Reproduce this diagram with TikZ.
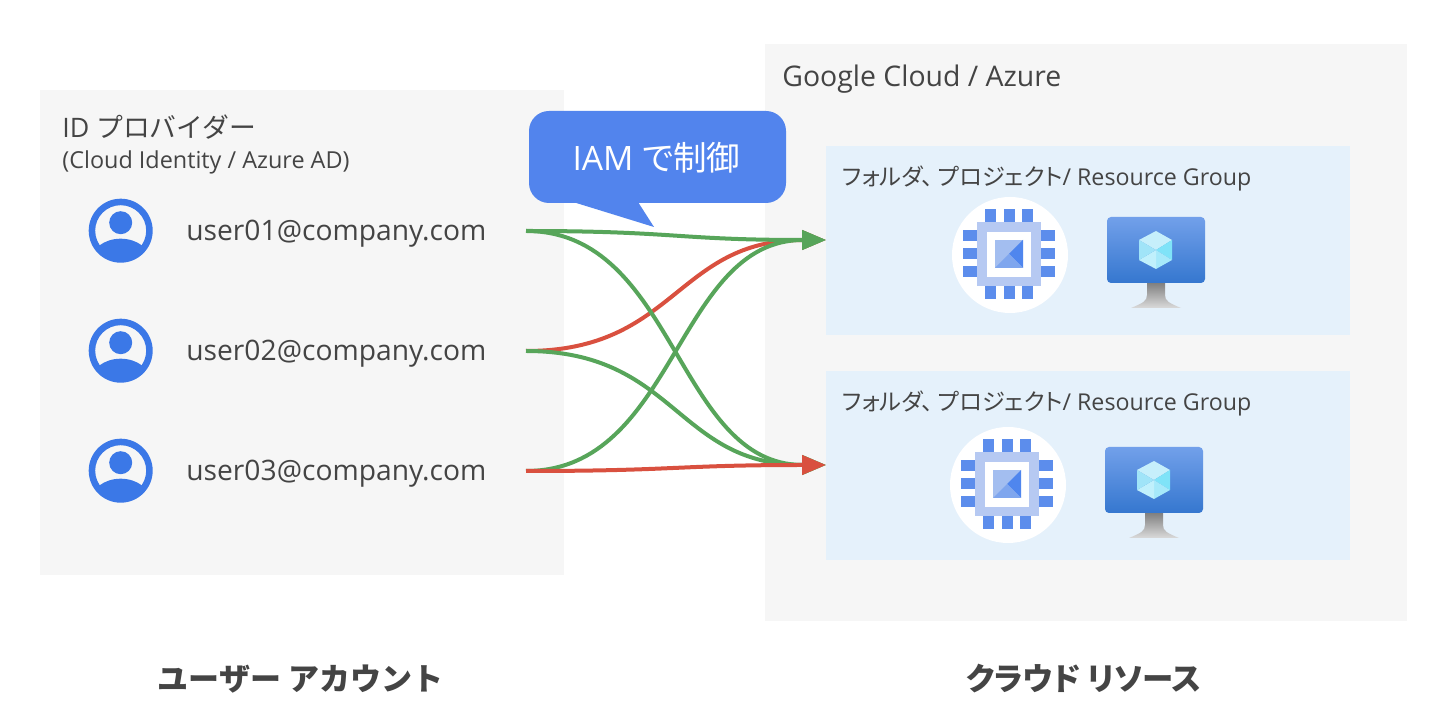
\documentclass[tikz,border=0pt]{standalone}
\usepackage{fontspec}
\setmainfont{Open Sans}
\newfontfamily\jp{Noto Sans CJK JP}
\newfontfamily\jpp[RawFeature=+palt]{Noto Sans CJK JP}
\usetikzlibrary{arrows.meta,shadings}
\definecolor{panelgray}{HTML}{F6F6F6}
\definecolor{panelblue}{HTML}{E5F1FB}
\definecolor{ink}{HTML}{444444}
\definecolor{bubble}{HTML}{5284ED}
\definecolor{userblue}{HTML}{3B78E7}
\definecolor{linkgreen}{HTML}{57A55A}
\definecolor{linkred}{HTML}{D9503F}
\definecolor{pinblue}{HTML}{5C8DEC}
\definecolor{chipbody}{HTML}{B6C9F2}
\definecolor{standtop}{HTML}{808080}
\definecolor{standbot}{HTML}{DADADA}
\definecolor{mtop}{HTML}{72A0EA}
\definecolor{mbot}{HTML}{3577CF}
\tikzset{
  x=0.5pt,y=-0.5pt,
  panel/.style={fill=panelgray,draw=none},
  bluepanel/.style={fill=panelblue,draw=none},
  label/.style={anchor=base west,inner sep=0pt,text=ink},
  link/.style={line width=2pt,-{Triangle[length=12pt,width=9.5pt]}},
  pin/.style={fill=pinblue,draw=none},
  hexc/.code={\definecolor{tmpc}{HTML}{#1}\pgfkeysalso{fill=tmpc}},
  pics/usericon/.style={code={
    \fill[userblue,even odd rule] (0,0) circle[radius=32] (0,0) circle[radius=25.5];
    \fill[userblue] (0,-8) circle[radius=11.5];
    \begin{scope}
      \clip (0,0) circle[radius=31];
      \fill[userblue] (0,31) ellipse[x radius=30,y radius=23];
    \end{scope}
  }},
  pics/chipicon/.style={code={
    \fill[white] (0,0) circle[radius=58];
    \foreach \a in {-25,-6,12}{
      \fill[pin] (\a,-46) rectangle (\a+11,-32);
      \fill[pin] (\a,30) rectangle (\a+11,44);
    }
    \foreach \b in {-25,-7,11}{
      \fill[pin] (-47,\b) rectangle (-32,\b+11);
      \fill[pin] (30,\b) rectangle (45,\b+11);
    }
    \fill[chipbody] (-33,-33) rectangle (31,31);
    \fill[white] (-23,-23) rectangle (21,22);
    \fill[hexc=A3BEF0] (-15,-15) rectangle (13,13);
    \fill[hexc=4F86EE] (13,-15) -- (13,13) -- (-1,-1) -- cycle;
    \fill[hexc=7FA6EE] (-15,13) -- (-1,-1) -- (13,13) -- cycle;
  }},
  pics/vmicon/.style={code={
    \shade[top color=standtop,bottom color=standbot] (40,66) -- (58,66) -- (58,78) .. controls (58,84) and (62,86) .. (74,91) -- (24,91) .. controls (36,86) and (40,84) .. (40,78) -- cycle;
    \shade[top color=mtop,bottom color=mbot,rounded corners=2pt] (0,0) rectangle (98,66);
    \fill[hexc=C6EFFB] (49,14) -- (65,23) -- (49,33) -- (32,23) -- cycle;
    \fill[hexc=7FE3F8] (65,23) -- (65,43) -- (49,33) -- cycle;
    \fill[hexc=A6E9FA] (65,43) -- (49,52) -- (49,33) -- cycle;
    \fill[hexc=C0F0FC] (49,52) -- (32,43) -- (49,33) -- cycle;
    \fill[hexc=A0E4F8] (32,43) -- (32,23) -- (49,33) -- cycle;
  }},
}
\begin{document}
\begin{tikzpicture}
\useasboundingbox (0,0) rectangle (1448,726);
\fill[white] (0,0) rectangle (1448,726);
% panels
\fill[panel] (40,90) rectangle (564,575);
\fill[panel] (765,44) rectangle (1407,621);
\fill[bluepanel] (826,146) rectangle (1350,335);
\fill[bluepanel] (826,371) rectangle (1350,560);
% labels
\node[label,font=\fontsize{13.4pt}{15pt}\selectfont] (idp) at (62,138) {ID {\jp プロバイダー}};
\node[label,font=\fontsize{11.7pt}{13pt}\selectfont] (idps) at (62,169) {(Cloud Identity / Azure AD)};
\node[label,font=\fontsize{14.2pt}{16pt}\selectfont] (gc) at (782,87) {Google Cloud / Azure};
\node[label,font=\fontsize{11.6pt}{14pt}\selectfont] (fa) at (842,186) {{\jpp フォルダ、\kern2.5ptプロジェクト}/ Resource Group};
\node[label,font=\fontsize{11.6pt}{14pt}\selectfont] (fb) at (842,411) {{\jpp フォルダ、\kern2.5ptプロジェクト}/ Resource Group};
\node[label,font=\fontsize{14.1pt}{16pt}\selectfont] (u1) at (186,241) {user01@company.com};
\node[label,font=\fontsize{14.1pt}{16pt}\selectfont] (u2) at (186,361) {user02@company.com};
\node[label,font=\fontsize{14.1pt}{16pt}\selectfont] (u3) at (186,481) {user03@company.com};
\node[anchor=base,inner sep=0pt,text=ink,font=\jp\bfseries\fontsize{15.5pt}{18pt}\selectfont] (ua) at (300.5,691) {ユーザー アカウント};
\node[anchor=base,inner sep=0pt,text=ink,font=\jpp\bfseries\fontsize{15.7pt}{18pt}\selectfont] (cr) at (1084,691) {クラウド リソース};
% icons
\pic at (120.7,230.7) {usericon};
\pic at (120.7,350.7) {usericon};
\pic at (120.7,470.7) {usericon};
\pic at (1010,255) {chipicon};
\pic at (1008,485) {chipicon};
\pic at (1107,217) {vmicon};
\pic at (1105,447) {vmicon};
% connectors
\coordinate (s1) at (526,231);
\coordinate (s2) at (526,351);
\coordinate (s3) at (526,471);
\coordinate (ta) at (826,240);
\coordinate (tb) at (826,465);
\draw[link,draw=linkred] (s2) .. controls +(150,0) and +(-150,0) .. (ta);
\draw[link,draw=linkgreen] (s3) .. controls +(150,0) and +(-150,0) .. (ta);
\draw[link,draw=linkgreen] (s1) .. controls +(150,0) and +(-150,0) .. (ta);
\draw[link,draw=linkgreen] (s1) .. controls +(150,0) and +(-150,0) .. (tb);
\draw[link,draw=linkgreen] (s2) .. controls +(150,0) and +(-150,0) .. (tb);
\draw[link,draw=linkred] (s3) .. controls +(150,0) and +(-150,0) .. (tb);
% bubble
\fill[bubble,rounded corners=10pt] (529,111) rectangle (786,203);
\fill[bubble] (573,202) -- (654,227) -- (638,202) -- cycle;
\node[anchor=base,inner sep=0pt,text=white,font=\fontsize{16.8pt}{19pt}\selectfont] (iam) at (656.5,171) {IAM {\jpp で制御}};
\end{tikzpicture}
\end{document}
